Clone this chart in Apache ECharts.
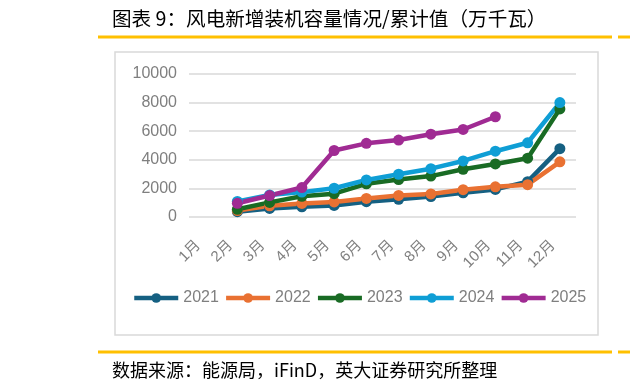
<!DOCTYPE html>
<html>
<head>
<meta charset="utf-8">
<script src="https://cdn.jsdelivr.net/npm/echarts@6/dist/echarts.min.js"></script>
<style>
html,body{margin:0;padding:0;background:#fff;}
#c{width:630px;height:388px;}
</style>
</head>
<body>
<div id="c"></div>
<script>
var months = ['1月','2月','3月','4月','5月','6月','7月','8月','9月','10月','11月','12月'];
var yTicks = [0, 2000, 4000, 6000, 8000, 10000];
var s2021 = [null, 370, 600, 710, 810, 1070, 1240, 1430, 1690, 1930, 2470, 4780];
var s2022 = [null, 450, 780, 950, 1050, 1300, 1510, 1610, 1910, 2110, 2260, 3860];
var s2023 = [null, 540, 1020, 1450, 1630, 2320, 2620, 2860, 3340, 3710, 4110, 7560];
var s2024 = [null, 1090, 1540, 1740, 2010, 2590, 2990, 3380, 3920, 4600, 5190, 8000];
var s2025 = [null, 960, 1500, 2060, 4650, 5150, 5380, 5790, 6120, 7010, null, null];
var seriesNames = ['2021','2022','2023','2024','2025'];
var seriesData = [s2021, s2022, s2023, s2024, s2025];
var colors = ['#156082','#E97132','#196B24','#0F9ED5','#A02B93'];
var titleText = '图表 9：风电新增装机容量情况/累计值（万千瓦）';
var sourceText = '数据来源：能源局，iFinD，英大证券研究所整理';

var chart = echarts.init(document.getElementById('c'), null, {renderer:'canvas'});
var cjk = '"Noto Sans CJK SC", "Noto Sans", sans-serif';
var latin = '"Liberation Sans", Arial, "Noto Sans CJK SC", sans-serif';

var option = {
  animation: false,
  color: colors,
  grid: {left: 189, right: 54, top: 74, bottom: 171, containLabel: false},
  xAxis: {
    type: 'category',
    data: months,
    boundaryGap: true,
    axisLine: {show: false},
    axisTick: {show: false},
    axisLabel: {rotate: 45, margin: 19, padding: [0, 10, 0, 0], color: '#7f7f7f', fontSize: 15, fontFamily: latin, interval: 0}
  },
  yAxis: {
    type: 'value',
    min: yTicks[0],
    max: yTicks[yTicks.length-1],
    interval: yTicks[1]-yTicks[0],
    axisLine: {show: false},
    axisTick: {show: false},
    axisLabel: {margin: 12, color: '#7f7f7f', fontSize: 16, fontFamily: latin, formatter: function(v){ return String(v); }},
    splitLine: {lineStyle: {color: '#d9d9d9', width: 1.5}}
  },
  legend: {
    left: 132,
    top: 290,
    padding: 0,
    itemWidth: 44,
    itemHeight: 12,
    itemGap: 5,
    lineStyle: {width: 4.5},
    textStyle: {color: '#7f7f7f', fontSize: 16, fontFamily: latin},
    data: seriesNames
  },
  series: seriesNames.map(function(n, i){
    return {
      name: n,
      type: 'line',
      data: seriesData[i],
      symbol: 'circle',
      symbolSize: 11,
      connectNulls: false,
      lineStyle: {width: 4.5, color: colors[i]},
      itemStyle: {color: colors[i]}
    };
  }),
  graphic: [
    {type:'rect', shape:{x:115, y:52, width:483, height:283}, style:{fill:'none', stroke:'#d9d9d9', lineWidth:1.5}, z:-1},
    {type:'line', shape:{x1:98, y1:37, x2:612, y2:37}, style:{stroke:'#FFC000', lineWidth:3}},
    {type:'line', shape:{x1:618, y1:37, x2:630, y2:37}, style:{stroke:'#FFC000', lineWidth:3}},
    {type:'line', shape:{x1:98, y1:352, x2:612, y2:352}, style:{stroke:'#FFC000', lineWidth:3}},
    {type:'line', shape:{x1:618, y1:352, x2:630, y2:352}, style:{stroke:'#FFC000', lineWidth:3}},
    {type:'text', left:112, top:9, style:{text:titleText, fill:'#000', font:'19.6px ' + cjk}},
    {type:'text', left:112, top:361, style:{text:sourceText, fill:'#000', font:'18px ' + cjk}}
  ]
};
chart.setOption(option);
</script>
</body>
</html>
